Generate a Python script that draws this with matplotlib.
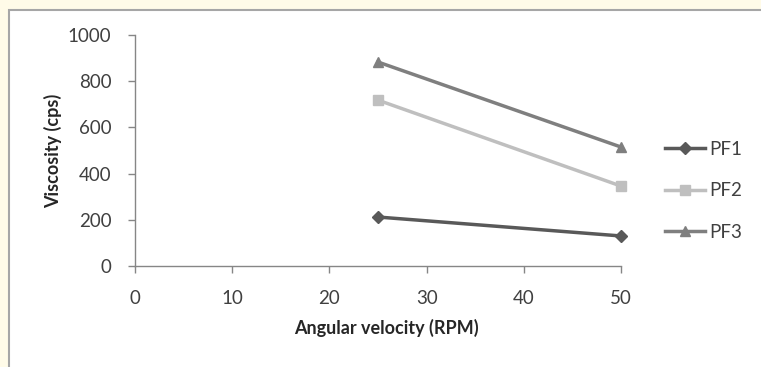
import matplotlib.pyplot as plt
from matplotlib.patches import Rectangle

rpm = [25, 50]
pf1 = [212, 130]
pf2 = [718, 346]
pf3 = [883, 515]

plt.rcParams['font.family'] = ['Lato', 'DejaVu Sans']

fig = plt.figure(figsize=(7.61, 3.67), dpi=100)
fig.patch.set_facecolor('#fffbe8')
# white chart area with grey border
fig.patches.append(Rectangle((8.5 / 761, -0.1), 1.0, 1 - 10.5 / 367 + 0.1,
                             transform=fig.transFigure, facecolor='white',
                             edgecolor='#a6a6a6', linewidth=1.5, zorder=-10))

ax = fig.add_axes([135 / 761, 1 - 266 / 367, (621 - 135) / 761, (266 - 35) / 367])
ax.set_facecolor('none')
ax.set_zorder(5)

ax.plot(rpm, pf1, color='#595959', marker='D', markersize=6, linewidth=2.5, label='PF1', clip_on=False)
ax.plot(rpm, pf2, color='#bfbfbf', marker='s', markersize=7, linewidth=2.5, label='PF2', clip_on=False)
ax.plot(rpm, pf3, color='#7f7f7f', marker='^', markersize=7, linewidth=2.5, label='PF3', clip_on=False)

ax.set_xlim(0, 50)
ax.set_ylim(0, 1000)
ax.set_xticks(range(0, 51, 10))
ax.set_yticks(range(0, 1001, 200))
for s in ['top', 'right']:
    ax.spines[s].set_visible(False)
for s in ['left', 'bottom']:
    ax.spines[s].set_color('#868686')
    ax.spines[s].set_linewidth(1)
ax.tick_params(colors='#868686', labelcolor='#404040', labelsize=13.5, length=5, width=1)
ax.tick_params(axis='y', pad=12)
ax.tick_params(axis='x', pad=12)

# axis titles placed where they sit in the original
fig.text(386.5 / 761, 1 - 328 / 367, 'Angular velocity (RPM)', fontsize=13, fontweight='bold',
         color='#262626', ha='center', va='center')
fig.text(53 / 761, 1 - 151 / 367, 'Viscosity (cps)', fontsize=13, fontweight='bold',
         color='#262626', ha='center', va='center', rotation=90)

leg = ax.legend(loc='center left', bbox_to_anchor=(1.0905, 0.325), frameon=False,
                borderpad=0, borderaxespad=0,
                fontsize=13.5, handlelength=2.15, labelspacing=1.3, handletextpad=0.2)
for t in leg.get_texts():
    t.set_color('#404040')

fig.savefig('out.png', dpi=100, facecolor=fig.get_facecolor())
